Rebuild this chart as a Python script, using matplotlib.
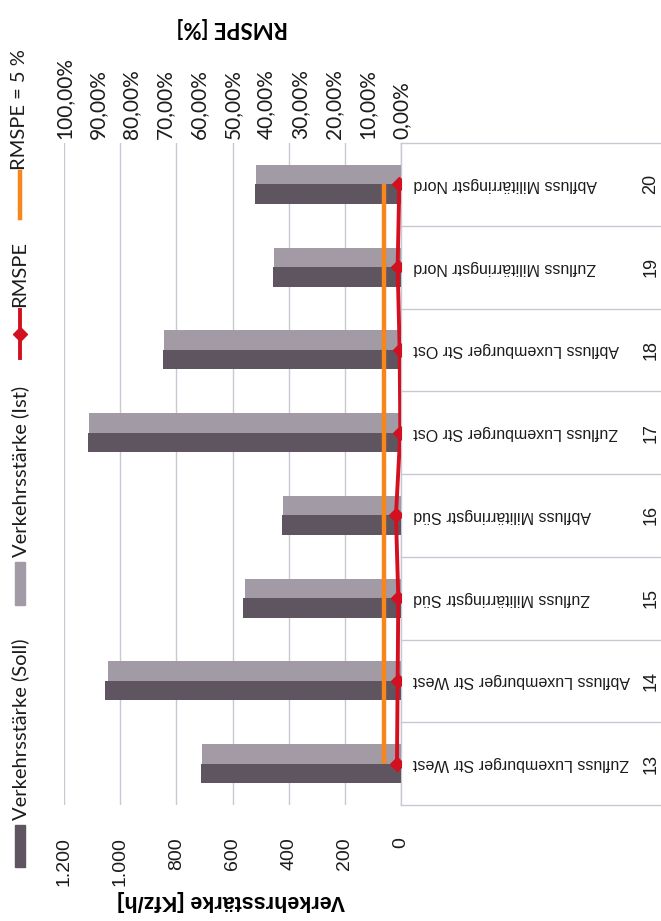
import matplotlib
matplotlib.use("Agg")
import matplotlib.pyplot as plt
from matplotlib.patches import Rectangle
from matplotlib.lines import Line2D
from matplotlib.ticker import FixedLocator, FuncFormatter

# ---- data -------------------------------------------------------------
categories = ["13", "14", "15", "16", "17", "18", "19", "20"]
names = [
    "Zufluss Luxemburger Str West",
    "Abfluss Luxemburger Str West",
    "Zufluss Militärringstr Süd",
    "Abfluss Militärringstr Süd",
    "Zufluss Luxemburger Str Ost",
    "Abfluss Luxemburger Str Ost",
    "Zufluss Militärringstr Nord",
    "Abfluss Militärringstr Nord",
]
soll = [712, 1053, 562, 424, 1114, 847, 456, 520]   # Verkehrsstärke (Soll)
ist = [708, 1043, 555, 420, 1110, 845, 452, 516]    # Verkehrsstärke (Ist)
rmspe = [1.2, 1.0, 0.8, 1.5, 0.2, 0.4, 1.0, 0.5]    # RMSPE [%]
rmspe_limit = [5, 5, 5, 5, 5, 5, 5, 5]               # RMSPE = 5 %
value_ticks = [0, 200, 400, 600, 800, 1000, 1200]
pct_ticks = [0, 10, 20, 30, 40, 50, 60, 70, 80, 90, 100]

# ---- style ------------------------------------------------------------
DARK = "#5e5560"
LIGHT = "#a29aa4"
RED = "#d3101f"
ORANGE = "#f7861c"
GRID = "#c8c8d2"
TXT = "#1c1c1c"

plt.rcParams["font.family"] = ["Liberation Sans", "DejaVu Sans"]
plt.rcParams["text.color"] = TXT

W, H = 661, 921
fig = plt.figure(figsize=(W / 100, H / 100), dpi=100)
fig.patch.set_facecolor("white")


def fx(x):
    return x / W


def fy(y):
    return 1 - y / H


# main axes: values grow to the left, categories stacked bottom -> top
ax = fig.add_axes([fx(64), fy(805), fx(401) - fx(64), fy(143) - fy(805)])
ax.set_xlim(1200, 0)
ax.set_ylim(-0.5, len(categories) - 0.5)
pos = list(range(len(categories)))
bar_h = 0.236
ax.barh([p + bar_h / 2 for p in pos], ist, height=bar_h, color=LIGHT, zorder=2)
ax.barh([p - bar_h / 2 for p in pos], soll, height=bar_h, color=DARK, zorder=2)

for s in ax.spines.values():
    s.set_visible(False)
ax.set_axisbelow(True)
ax.xaxis.set_major_locator(FixedLocator(value_ticks))
ax.xaxis.set_major_formatter(FuncFormatter(lambda v, _: f"{int(v):,}".replace(",", ".")))
ax.grid(axis="x", color=GRID, lw=1.0)
ax.set_yticks([])
ax.tick_params(axis="x", length=0, labelrotation=90, pad=23, labelsize=14, labelcolor=TXT)
ax.set_xlabel("Verkehrsstärke [Kfz/h]", rotation=180, fontsize=15.5, fontweight="bold")
ax.xaxis.set_label_coords(0.496, -0.145)
ax.xaxis.label.set_va("center")

# category label box to the right of the zero line
ytr = ax.get_yaxis_transform()
for b in [p - 0.5 for p in pos] + [pos[-1] + 0.5]:
    ax.plot([1.0, 1.9], [b, b], transform=ytr, color=GRID, lw=1.0, clip_on=False, zorder=1)
ax.plot([1.0, 1.0], [-0.5, pos[-1] + 0.5], transform=ytr, color=GRID, lw=1.0,
        clip_on=False, zorder=1)
for p, name, cat in zip(pos, names, categories):
    ax.text(1.0356, p, name, transform=ytr, rotation=180, ha="left", va="center",
            fontsize=11.5)
    ax.text(1.742, p, cat, transform=ytr, rotation=90, ha="center", va="center",
            fontsize=13)

# secondary axis: RMSPE in percent
ax2 = ax.twiny()
ax2.set_xlim(100, 0)
for s in ax2.spines.values():
    s.set_visible(False)
ax2.plot(rmspe_limit, pos, color=ORANGE, lw=3.2, solid_capstyle="butt", zorder=3)
ax2.plot(rmspe, pos, color=RED, lw=2.8, marker="D", ms=7, zorder=4)
ax2.xaxis.set_major_locator(FixedLocator(pct_ticks))
ax2.xaxis.set_major_formatter(FuncFormatter(lambda v, _: f"{v:.2f}".replace(".", ",") + "%"))
ax2.tick_params(axis="x", length=0, labelrotation=90, pad=3, labelsize=15, labelcolor=TXT)
for lab in ax2.get_xticklabels():
    lab.set_family(["Lato", "DejaVu Sans"])
ax2.set_xlabel("RMSPE [%]", rotation=180, fontsize=16, fontweight="bold",
               family=["Lato", "DejaVu Sans"])
ax2.xaxis.set_label_position("top")
ax2.xaxis.set_label_coords(0.4985, 1.175)
ax2.xaxis.label.set_va("center")

# legend, stacked along the left edge
LEG = dict(rotation=90, ha="center", va="bottom", fontsize=14.5, family=["Lato", "DejaVu Sans"])
fig.patches.append(Rectangle((fx(15), fy(867)), fx(10), fy(825) - fy(867),
                             transform=fig.transFigure, color=DARK))
fig.text(fx(20), fy(820), "Verkehrsstärke (Soll)", **LEG)
fig.patches.append(Rectangle((fx(15), fy(605)), fx(10), fy(562) - fy(605),
                             transform=fig.transFigure, color=LIGHT))
fig.text(fx(20), fy(557), "Verkehrsstärke (Ist)", **LEG)
fig.lines.append(Line2D([fx(20), fx(20)], [fy(358), fy(310)], transform=fig.transFigure,
                        color=RED, lw=2.8))
fig.lines.append(Line2D([fx(20)], [fy(334)], transform=fig.transFigure, color=RED,
                        marker="D", ms=7))
fig.text(fx(20), fy(307), "RMSPE", **LEG)
fig.lines.append(Line2D([fx(20), fx(20)], [fy(218), fy(172)], transform=fig.transFigure,
                        color=ORANGE, lw=3.2))
fig.text(fx(20), fy(170), "RMSPE = 5 %", **LEG)

fig.savefig("out.png", dpi=100)
